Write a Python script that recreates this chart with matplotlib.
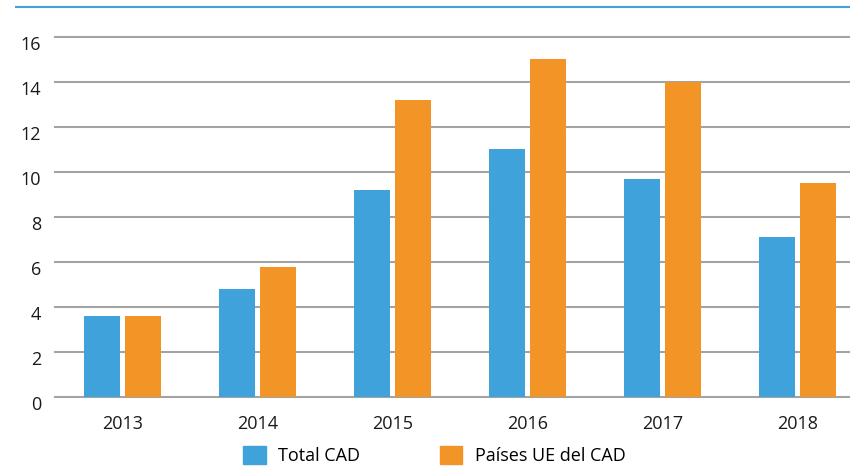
import matplotlib
matplotlib.use("Agg")
import matplotlib.pyplot as plt
import matplotlib.transforms as mtransforms
import numpy as np
from matplotlib.lines import Line2D
from matplotlib.patches import Patch

years = ["2013", "2014", "2015", "2016", "2017", "2018"]
total_cad = [3.6, 4.8, 9.2, 11.0, 9.7, 7.1]
ue_cad = [3.6, 5.8, 13.2, 15.0, 14.0, 9.5]
series_names = ["Total CAD", "Países UE del CAD"]
yticks = [0, 2, 4, 6, 8, 10, 12, 14, 16]

BLUE = "#3FA2DB"
ORANGE = "#F39426"
GRID = "#A3A3A3"

plt.rcParams['font.family'] = ['Open Sans', 'DejaVu Sans']

W, H = 850, 469
fig = plt.figure(figsize=(W / 100, H / 100), dpi=100)
left, right, bottom, top = 55, 850, 397, 37
ax = fig.add_axes([left / W, 1 - bottom / H, (right - left) / W, (bottom - top) / H])

x = np.arange(len(years))
bw = 0.26
off = 0.152
ax.bar(x - off, total_cad, width=bw, color=BLUE, zorder=3)
ax.bar(x + off, ue_cad, width=bw, color=ORANGE, zorder=3)

ax.set_xlim(-0.5, 5.5 - 15 / 135)
ax.set_ylim(0, 16)
ax.set_yticks(yticks)
ax.set_yticklabels([str(v) for v in yticks])
ax.set_xticks(x)
ax.set_xticklabels(years)
for v in yticks:
    ax.axhline(v, color=GRID, lw=1.5, zorder=1, clip_on=False)
for s in ax.spines.values():
    s.set_visible(False)
ax.tick_params(axis='both', length=0, labelsize=13, colors='#1a1a1a')
ax.tick_params(axis='y', pad=10)
ax.tick_params(axis='x', pad=13)
shift = mtransforms.ScaledTranslation(0, -6 / 100, fig.dpi_scale_trans)
for lab in ax.get_yticklabels():
    lab.set_transform(lab.get_transform() + shift)

fig.add_artist(Line2D([16 / W, 1], [1 - 7 / H, 1 - 7 / H], color=BLUE, lw=1.5, transform=fig.transFigure))

handles = [Patch(color=BLUE), Patch(color=ORANGE)]
fig.legend(handles, series_names, loc='upper left', bbox_to_anchor=(243 / W, 1 - 446 / H),
           ncol=2, frameon=False, fontsize=13, handlelength=1.25, handleheight=1.15,
           handletextpad=0.7, columnspacing=4.4, borderpad=0, borderaxespad=0)

fig.savefig("out.png", dpi=100)
